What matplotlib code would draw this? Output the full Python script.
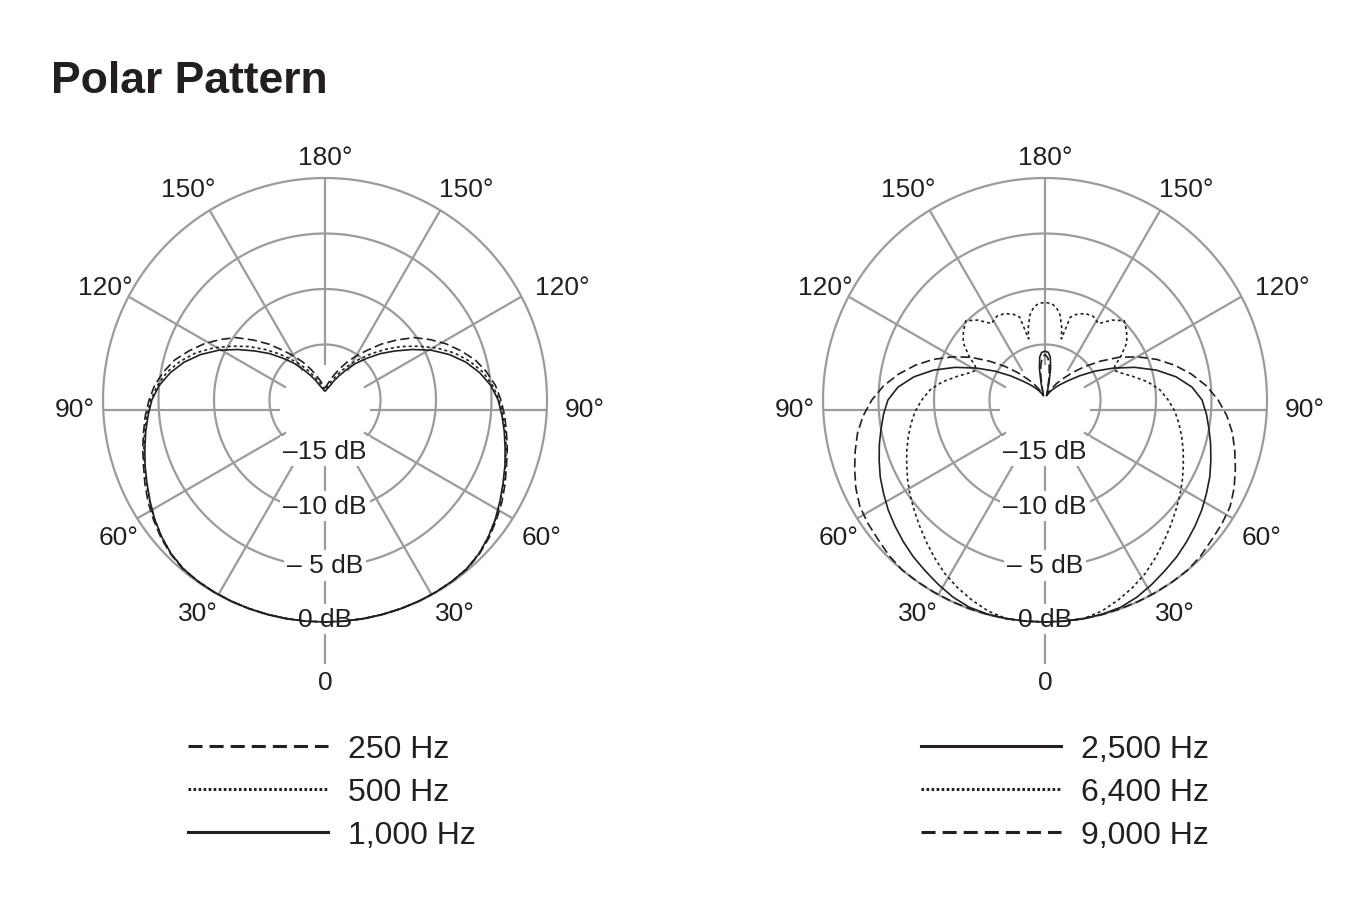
import matplotlib
matplotlib.use("Agg")
import matplotlib.pyplot as plt
import numpy as np
from matplotlib.lines import Line2D

plt.rcParams['font.family'] = ['Liberation Sans', 'DejaVu Sans']

INK = '#231f20'
GRID = '#9b9b9b'

# Response in dB, angle measured from the front (0) to the rear (180).
# Patterns are symmetric, the other half is mirrored when drawn.
LEFT_ANGLES = list(range(0, 181, 5))
HZ_250 = [0, 0, 0, 0, 0, 0, -0.02, -0.05, -0.1, -0.35, -0.7, -1.15, -1.6, -2.1, -2.6, -3.0,
          -3.4, -3.75, -4.15, -4.6, -5.25, -6.0, -7.0, -8.0, -9.1, -10.2, -11.6, -12.9,
          -14.2, -15.2, -16.1, -16.9, -17.6, -18.1, -18.5, -18.75, -18.9]
HZ_500 = [0, 0, 0, 0, 0, 0, -0.02, -0.06, -0.15, -0.4, -0.8, -1.25, -1.75, -2.25, -2.7, -3.1,
          -3.5, -3.9, -4.3, -4.85, -5.55, -6.5, -7.6, -8.9, -10.3, -11.6, -12.9, -14.1,
          -15.2, -16.1, -16.9, -17.6, -18.1, -18.5, -18.8, -19.0, -19.1]
HZ_1000 = [0, 0, 0, 0, 0, 0, -0.02, -0.06, -0.15, -0.4, -0.8, -1.27, -1.8, -2.3, -2.75, -3.2,
           -3.6, -4.0, -4.4, -5.0, -5.85, -6.85, -8.05, -9.4, -10.9, -12.3, -13.5, -14.7,
           -15.7, -16.7, -17.5, -18.1, -18.6, -18.85, -19.0, -19.15, -19.2]

HZ_2500_ANGLES = list(range(0, 161, 5)) + [163, 165, 167, 170, 173, 176, 180]
HZ_2500 = [0, 0, 0, -0.03, -0.12, -0.4, -0.8, -1.2, -1.55, -1.95, -2.35, -2.75, -3.2, -3.62,
           -4.1, -4.55, -5.0, -5.4, -5.85, -6.7, -8.0, -9.6, -11.4, -13.2, -14.8, -16.2,
           -17.3, -18.0, -18.5, -18.9, -19.2, -19.45, -19.6,
           -19.5, -19.1, -18.4, -17.1, -16.1, -15.7, -15.6]

HZ_6400_ANGLES = list(range(0, 111, 5)) + [113, 116, 120, 125, 130, 135, 140, 145, 150, 155,
                                           160, 163, 165, 167, 170, 173, 176, 180]
HZ_6400 = [0, 0, 0, -0.3, -0.8, -1.35, -1.95, -2.65, -3.35, -4.0, -4.6, -5.15, -5.7, -6.25,
           -6.75, -7.25, -7.75, -8.25, -8.9, -9.6, -10.6, -11.8, -12.8,
           -13.2, -13.0, -12.1, -11.0, -10.4, -9.9, -10.6, -11.6, -11.3, -11.4,
           -11.8, -12.2, -14.3, -13.3, -12.2, -11.6, -11.3, -11.2]

HZ_9000_ANGLES = list(range(0, 166, 5)) + [170, 173, 176, 180]
HZ_9000 = [0, 0, 0, 0, 0, 0, 0, 0, 0, -0.15, -0.4, -0.55, -0.75, -1.2, -1.75, -2.3, -2.85,
           -3.55, -4.4, -5.4, -6.6, -7.9, -9.3, -10.8, -12.3, -13.9, -15.3, -16.5, -17.5,
           -18.2, -18.8, -19.2, -19.5, -19.2, -17.8, -16.9, -16.2, -15.9]

RING_LEVELS = [-15, -10, -5, 0]
RING_LABELS = ['\u201315 dB', '\u201310 dB', '\u2013 5 dB', '0 dB']
RING_LABEL_R = [-15.4, -10.45, -5.1, -0.27]
SPOKE_ANGLES = list(range(0, 360, 30))
ANGLE_LABELS = ['0', '30°', '60°', '90°', '120°', '150°', '180°']

# layout (pixels in a 1350 x 904 figure)
W, H = 1350, 904
PX_PER_DB = 11.1
R_AX_DB = 26
CENTERS = [(325, 401), (1045, 401)]
SPOKE_ORIGIN_DY = 10      # spokes radiate from a point a little below the ring centre
SPOKE_INNER_PX = 45
SPOKE_FRONT_PX = 254
# (angle from front, radius px) for the right side / left side of each angle label
LABEL_SPOTS = [
    ((0, 282), None),
    ((31.4, 249.5), (30.8, 248)),
    ((57.6, 256), (56.5, 248)),
    ((88, 260), (87.9, 250)),
    ((115.5, 263), (117.2, 247)),
    ((146.2, 254), (147, 252)),
    ((180, 243), None),
]

DASHED = (0, (5.5, 2.5))
DOTTED = (0, (1.8, 1.8))
LEG_DASHED = (0, (4.6, 2.3))
LEG_DOTTED = (0, (0.85, 0.8))


def full_circle(angles, values):
    a = np.asarray(angles, dtype=float)
    v = np.asarray(values, dtype=float)
    th = np.concatenate([a, 360 - a[::-1][1:]])
    vv = np.concatenate([v, v[::-1][1:]])
    return np.deg2rad(th), vv


def px_to_db(r_px):
    return r_px / PX_PER_DB - 20


def px_to_polar(dx, dy):
    # dx to the right, dy downwards, relative to the ring centre
    return np.arctan2(dx, dy) % (2 * np.pi), px_to_db(np.hypot(dx, dy))


def spoke_ends(angle_deg):
    phi = np.deg2rad(angle_deg)
    u = np.array([np.sin(phi), np.cos(phi)])
    o = np.array([0.0, SPOKE_ORIGIN_DY])
    r_out = 20 * PX_PER_DB
    if angle_deg == 0:
        t_out = SPOKE_FRONT_PX
    else:
        b = o @ u
        t_out = -b + np.sqrt(b * b - o @ o + r_out ** 2)
    p0 = o + SPOKE_INNER_PX * u
    p1 = o + t_out * u
    th0, r0 = px_to_polar(*p0)
    th1, r1 = px_to_polar(*p1)
    return [th0, th1], [r0, r1]


def make_polar(fig, center):
    cx, cy = center
    rpx = R_AX_DB * PX_PER_DB
    rect = [(cx - rpx) / W, (H - cy - rpx) / H, 2 * rpx / W, 2 * rpx / H]
    ax = fig.add_axes(rect, projection='polar')
    ax.set_theta_zero_location('S')
    ax.set_ylim(-20, R_AX_DB - 20)
    ax.set_axis_off()

    full = np.linspace(0, 2 * np.pi, 721)
    for lev in RING_LEVELS:
        ax.plot(full, np.full_like(full, lev), color=GRID, lw=1.6, zorder=1)
    for a in SPOKE_ANGLES:
        th, r = spoke_ends(a)
        ax.plot(th, r, color=GRID, lw=1.6, zorder=1, solid_capstyle='butt')

    for lab, r in zip(RING_LABELS, RING_LABEL_R):
        ax.text(0, r, lab, ha='center', va='center', fontsize=19, color=INK,
                zorder=2, bbox=dict(boxstyle='square,pad=0.12', fc='white', ec='none'))

    for lab, (right, left) in zip(ANGLE_LABELS, LABEL_SPOTS):
        ang, rp = right
        ax.text(np.deg2rad(ang), px_to_db(rp), lab, ha='center', va='center',
                fontsize=19, color=INK)
        if left is not None:
            ang, rp = left
            ax.text(np.deg2rad(360 - ang), px_to_db(rp), lab, ha='center',
                    va='center', fontsize=19, color=INK)
    return ax


fig = plt.figure(figsize=(W / 100, H / 100), dpi=100)
fig.patch.set_facecolor('white')

fig.text(51 / W, 1 - 93.3 / H, 'Polar Pattern', fontsize=32, fontweight='bold',
         color=INK, ha='left', va='baseline')

ax1 = make_polar(fig, CENTERS[0])
for vals, ls in [(HZ_250, DASHED), (HZ_500, DOTTED), (HZ_1000, '-')]:
    th, r = full_circle(LEFT_ANGLES, vals)
    ax1.plot(th, r, color=INK, lw=1.2, ls=ls, zorder=3)

ax2 = make_polar(fig, CENTERS[1])
for ang, vals, ls in [(HZ_2500_ANGLES, HZ_2500, '-'),
                      (HZ_6400_ANGLES, HZ_6400, DOTTED),
                      (HZ_9000_ANGLES, HZ_9000, DASHED)]:
    th, r = full_circle(ang, vals)
    ax2.plot(th, r, color=INK, lw=1.2, ls=ls, zorder=3)

LEG_FS = 23
fs_px = LEG_FS * 100 / 72
leg_kw = dict(loc='center left', frameon=False, borderpad=0, borderaxespad=0,
              handlelength=140 / fs_px, handletextpad=20 / fs_px,
              labelspacing=0.4, fontsize=LEG_FS, labelcolor=INK)

left_handles = [Line2D([], [], color=INK, lw=2.2, ls=LEG_DASHED),
                Line2D([], [], color=INK, lw=2.2, ls=LEG_DOTTED),
                Line2D([], [], color=INK, lw=2.2, ls='-')]
fig.legend(left_handles, ['250 Hz', '500 Hz', '1,000 Hz'],
           bbox_to_anchor=(188 / W, 1 - 793 / H), **leg_kw)

right_handles = [Line2D([], [], color=INK, lw=2.2, ls='-'),
                 Line2D([], [], color=INK, lw=2.2, ls=LEG_DOTTED),
                 Line2D([], [], color=INK, lw=2.2, ls=LEG_DASHED)]
fig.legend(right_handles, ['2,500 Hz', '6,400 Hz', '9,000 Hz'],
           bbox_to_anchor=(921 / W, 1 - 793 / H), **leg_kw)

fig.savefig('out.png', dpi=100, facecolor='white')
